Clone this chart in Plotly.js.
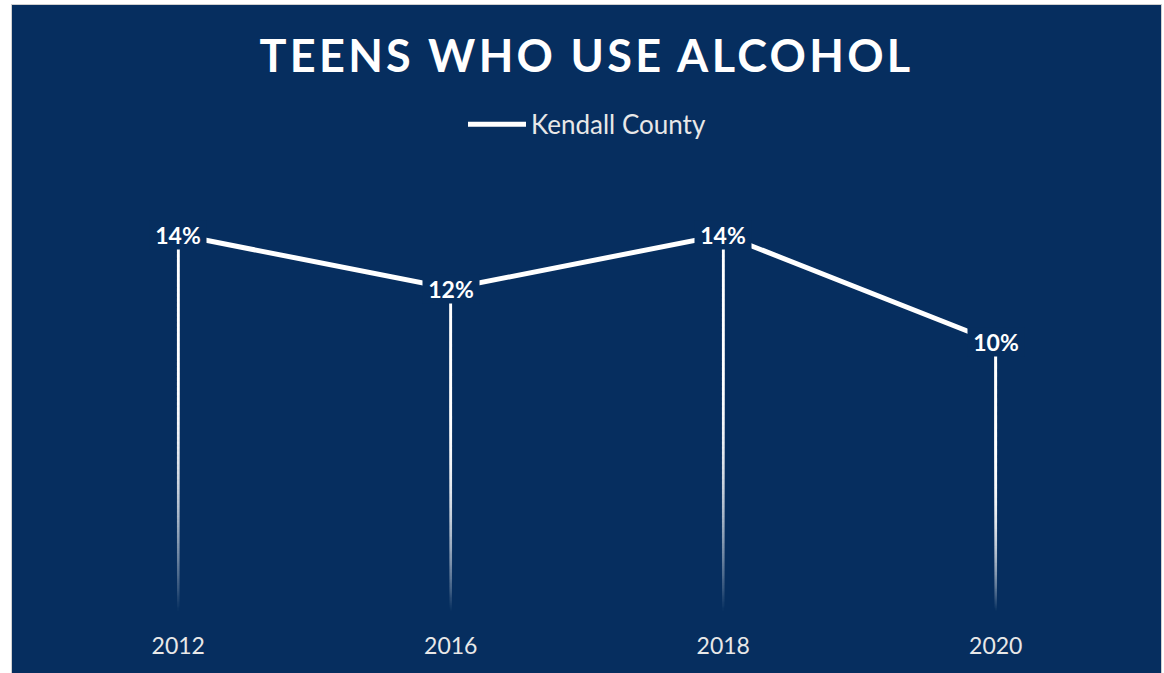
<!DOCTYPE html>
<html>
<head>
<meta charset="utf-8">
<script src="https://cdn.plot.ly/plotly-3.0.1.min.js"></script>
<style>
  html, body { margin: 0; padding: 0; background: #ffffff; width: 1164px; height: 673px; overflow: hidden; }
  #frame { position: absolute; left: 11px; top: 4px; width: 1149px; height: 669px; border: 1px solid #d0d0d0; border-bottom: none; background: #062e5f; }
  #chart { width: 1149px; height: 669px; }
  .gtitle { letter-spacing: 3.3px; }
</style>
</head>
<body>
<div id="frame"><div id="chart"></div></div>
<script>
// ---- data ----
const years = ['2012', '2016', '2018', '2020'];
const kendall = [14, 12, 14, 10];
const labels = ['14%', '12%', '14%', '10%'];
const seriesName = 'Kendall County';
const chartTitle = 'TEENS WHO USE ALCOHOL';

const BG = '#062e5f';
const FONT = 'Lato, "Noto Sans", sans-serif';

// evenly spaced category positions (index of each year)
const pos = years.map((_, i) => i);

// drop lines: gradient built from each value down to the axis (0)
const steps = 300;
const dropX = [], dropY = [], dropC = [];
pos.forEach((p, i) => {
  for (let s = 0; s <= steps; s++) {
    const f = s / steps;
    dropX.push(p);
    dropY.push(kendall[i] * f);
    dropC.push(f);
  }
});

const traces = [
  {
    x: dropX, y: dropY, type: 'scatter', mode: 'markers',
    marker: {
      symbol: 'square', size: 2.6, line: { width: 0 },
      color: dropC, cmin: 0, cmax: 0.62,
      colorscale: [[0, 'rgba(255,255,255,0)'], [0.35, 'rgba(255,255,255,0.35)'], [1, 'rgba(255,255,255,1)']],
      showscale: false
    },
    hoverinfo: 'skip', showlegend: false
  },
  {
    x: pos, y: kendall, type: 'scatter', mode: 'lines', name: seriesName,
    line: { color: '#ffffff', width: 5 },
    hoverinfo: 'skip'
  }
];

const annotations = pos.map((p, i) => ({
  x: p, y: kendall[i], xref: 'x', yref: 'y',
  text: '<b>' + labels[i] + '</b>', showarrow: false,
  font: { family: FONT, size: 23, color: '#ffffff' },
  bgcolor: BG, borderpad: 0, width: 56, height: 28
}));

const layout = {
  width: 1149, height: 669,
  paper_bgcolor: BG, plot_bgcolor: BG,
  margin: { l: 30, r: 29, t: 176, b: 63 },
  title: {
    text: '<b>' + chartTitle + '</b>',
    font: { family: FONT, size: 45, color: '#ffffff' },
    x: 0.5, xanchor: 'center', y: 0.924, yanchor: 'middle', yref: 'container'
  },
  showlegend: true,
  legend: {
    orientation: 'h', x: 0.5, xanchor: 'center', y: 1.132, yanchor: 'middle',
    font: { family: FONT, size: 26, color: '#e8e8e8' },
    itemwidth: 58,
    bgcolor: 'rgba(0,0,0,0)'
  },
  xaxis: {
    type: 'linear', range: [-0.5, years.length - 0.5],
    tickmode: 'array', tickvals: pos, ticktext: years,
    showgrid: false, zeroline: false, showline: false,
    ticks: '', ticklabelstandoff: 19,
    tickfont: { family: FONT, size: 23, color: '#e8e8e8' },
    fixedrange: true
  },
  yaxis: {
    range: [0, 16], visible: false, showgrid: false, zeroline: false, fixedrange: true
  },
  annotations: annotations
};

Plotly.newPlot('chart', traces, layout, { displayModeBar: false, staticPlot: true });
</script>
</body>
</html>
